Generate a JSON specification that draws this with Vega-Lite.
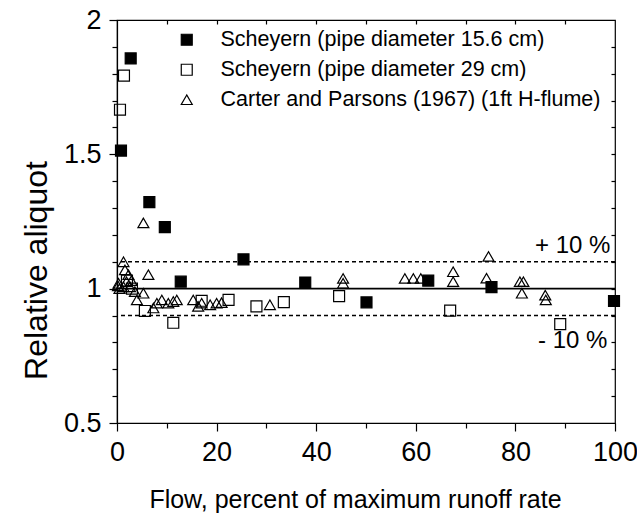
{
  "$schema": "https://vega.github.io/schema/vega-lite/v6.json",
  "width": 498,
  "height": 403,
  "autosize": {"type": "none"},
  "padding": {"left": 117, "top": 20, "right": 22, "bottom": 95},
  "background": "white",
  "config": {
    "font": "Liberation Sans",
    "view": {"stroke": "black", "strokeWidth": 1.2},
    "axis": {"grid": false, "domainColor": "black", "tickColor": "black", "labelColor": "black", "titleColor": "black", "labelFont": "Liberation Sans", "titleFont": "Liberation Sans", "titleFontWeight": "normal", "domainWidth": 1.2, "tickWidth": 1.2}
  },
  "datasets": {
    "pts": [
      {"x": 0.8, "y": 1.514, "series": "Scheyern (pipe diameter 15.6 cm)"},
      {"x": 2.75, "y": 1.857, "series": "Scheyern (pipe diameter 15.6 cm)"},
      {"x": 6.5, "y": 1.322, "series": "Scheyern (pipe diameter 15.6 cm)"},
      {"x": 9.6, "y": 1.229, "series": "Scheyern (pipe diameter 15.6 cm)"},
      {"x": 12.8, "y": 1.026, "series": "Scheyern (pipe diameter 15.6 cm)"},
      {"x": 25.4, "y": 1.109, "series": "Scheyern (pipe diameter 15.6 cm)"},
      {"x": 37.8, "y": 1.023, "series": "Scheyern (pipe diameter 15.6 cm)"},
      {"x": 50.1, "y": 0.949, "series": "Scheyern (pipe diameter 15.6 cm)"},
      {"x": 62.5, "y": 1.03, "series": "Scheyern (pipe diameter 15.6 cm)"},
      {"x": 75.2, "y": 1.006, "series": "Scheyern (pipe diameter 15.6 cm)"},
      {"x": 99.8, "y": 0.954, "series": "Scheyern (pipe diameter 15.6 cm)"},
      {"x": 0.6, "y": 1.666, "series": "Scheyern (pipe diameter 29 cm)"},
      {"x": 1.4, "y": 1.793, "series": "Scheyern (pipe diameter 29 cm)"},
      {"x": 2.0, "y": 1.03, "series": "Scheyern (pipe diameter 29 cm)"},
      {"x": 3.0, "y": 1.0, "series": "Scheyern (pipe diameter 29 cm)"},
      {"x": 5.6, "y": 0.917, "series": "Scheyern (pipe diameter 29 cm)"},
      {"x": 11.3, "y": 0.873, "series": "Scheyern (pipe diameter 29 cm)"},
      {"x": 17, "y": 0.955, "series": "Scheyern (pipe diameter 29 cm)"},
      {"x": 22.4, "y": 0.958, "series": "Scheyern (pipe diameter 29 cm)"},
      {"x": 28, "y": 0.934, "series": "Scheyern (pipe diameter 29 cm)"},
      {"x": 33.5, "y": 0.95, "series": "Scheyern (pipe diameter 29 cm)"},
      {"x": 44.6, "y": 0.972, "series": "Scheyern (pipe diameter 29 cm)"},
      {"x": 66.9, "y": 0.918, "series": "Scheyern (pipe diameter 29 cm)"},
      {"x": 89, "y": 0.868, "series": "Scheyern (pipe diameter 29 cm)"},
      {"x": 0.3, "y": 1.02, "series": "Carter and Parsons (1967) (1ft H-flume)"},
      {"x": 0.5, "y": 1.0, "series": "Carter and Parsons (1967) (1ft H-flume)"},
      {"x": 0.2, "y": 1.01, "series": "Carter and Parsons (1967) (1ft H-flume)"},
      {"x": 1.3, "y": 1.1, "series": "Carter and Parsons (1967) (1ft H-flume)"},
      {"x": 1.6, "y": 1.07, "series": "Carter and Parsons (1967) (1ft H-flume)"},
      {"x": 2.3, "y": 1.052, "series": "Carter and Parsons (1967) (1ft H-flume)"},
      {"x": 2.9, "y": 1.03, "series": "Carter and Parsons (1967) (1ft H-flume)"},
      {"x": 1.9, "y": 1.026, "series": "Carter and Parsons (1967) (1ft H-flume)"},
      {"x": 1.3, "y": 1.007, "series": "Carter and Parsons (1967) (1ft H-flume)"},
      {"x": 2.6, "y": 1.007, "series": "Carter and Parsons (1967) (1ft H-flume)"},
      {"x": 3.6, "y": 0.989, "series": "Carter and Parsons (1967) (1ft H-flume)"},
      {"x": 5.3, "y": 0.983, "series": "Carter and Parsons (1967) (1ft H-flume)"},
      {"x": 4.0, "y": 0.958, "series": "Carter and Parsons (1967) (1ft H-flume)"},
      {"x": 5.3, "y": 1.245, "series": "Carter and Parsons (1967) (1ft H-flume)"},
      {"x": 6.3, "y": 1.052, "series": "Carter and Parsons (1967) (1ft H-flume)"},
      {"x": 7.3, "y": 0.928, "series": "Carter and Parsons (1967) (1ft H-flume)"},
      {"x": 8.0, "y": 0.946, "series": "Carter and Parsons (1967) (1ft H-flume)"},
      {"x": 9.0, "y": 0.958, "series": "Carter and Parsons (1967) (1ft H-flume)"},
      {"x": 10.3, "y": 0.946, "series": "Carter and Parsons (1967) (1ft H-flume)"},
      {"x": 11.3, "y": 0.952, "series": "Carter and Parsons (1967) (1ft H-flume)"},
      {"x": 12.0, "y": 0.958, "series": "Carter and Parsons (1967) (1ft H-flume)"},
      {"x": 15.3, "y": 0.958, "series": "Carter and Parsons (1967) (1ft H-flume)"},
      {"x": 16.3, "y": 0.934, "series": "Carter and Parsons (1967) (1ft H-flume)"},
      {"x": 17.0, "y": 0.946, "series": "Carter and Parsons (1967) (1ft H-flume)"},
      {"x": 18.7, "y": 0.94, "series": "Carter and Parsons (1967) (1ft H-flume)"},
      {"x": 20.0, "y": 0.946, "series": "Carter and Parsons (1967) (1ft H-flume)"},
      {"x": 21.0, "y": 0.948, "series": "Carter and Parsons (1967) (1ft H-flume)"},
      {"x": 30.7, "y": 0.94, "series": "Carter and Parsons (1967) (1ft H-flume)"},
      {"x": 45.4, "y": 1.038, "series": "Carter and Parsons (1967) (1ft H-flume)"},
      {"x": 45.4, "y": 1.02, "series": "Carter and Parsons (1967) (1ft H-flume)"},
      {"x": 57.8, "y": 1.038, "series": "Carter and Parsons (1967) (1ft H-flume)"},
      {"x": 59.5, "y": 1.038, "series": "Carter and Parsons (1967) (1ft H-flume)"},
      {"x": 61.0, "y": 1.038, "series": "Carter and Parsons (1967) (1ft H-flume)"},
      {"x": 67.5, "y": 1.063, "series": "Carter and Parsons (1967) (1ft H-flume)"},
      {"x": 67.5, "y": 1.026, "series": "Carter and Parsons (1967) (1ft H-flume)"},
      {"x": 74.6, "y": 1.12, "series": "Carter and Parsons (1967) (1ft H-flume)"},
      {"x": 74.2, "y": 1.039, "series": "Carter and Parsons (1967) (1ft H-flume)"},
      {"x": 80.9, "y": 1.026, "series": "Carter and Parsons (1967) (1ft H-flume)"},
      {"x": 81.6, "y": 1.026, "series": "Carter and Parsons (1967) (1ft H-flume)"},
      {"x": 81.3, "y": 0.983, "series": "Carter and Parsons (1967) (1ft H-flume)"},
      {"x": 86.0, "y": 0.976, "series": "Carter and Parsons (1967) (1ft H-flume)"},
      {"x": 86.1, "y": 0.958, "series": "Carter and Parsons (1967) (1ft H-flume)"}
    ],
    "refs": [
      {"y": 1.0, "kind": "solid"},
      {"y": 1.1, "kind": "dashed"},
      {"y": 0.9, "kind": "dashed"}
    ],
    "labels": [
      {"x": 91.5, "y": 1.158, "label": "+ 10 %"},
      {"x": 91.5, "y": 0.805, "label": "- 10 %"}
    ]
  },
  "resolve": {"scale": {"x": "shared", "y": "shared"}, "axis": {"x": "independent", "y": "independent"}},
  "layer": [
    {
      "data": {"name": "refs"},
      "transform": [{"filter": "datum.kind === 'solid'"}],
      "mark": {"type": "rule", "color": "black", "strokeWidth": 1.6},
      "encoding": {
        "y": {"field": "y", "type": "quantitative", "scale": {"domain": [0.5, 2], "nice": false, "zero": false},
          "axis": {"orient": "left", "values": [0.6, 0.7, 0.8, 0.9, 1.1, 1.2, 1.3, 1.4, 1.6, 1.7, 1.8, 1.9], "labels": false, "domain": false, "tickSize": 5, "title": null}}
      }
    },
    {
      "data": {"name": "refs"},
      "transform": [{"filter": "datum.kind === 'dashed'"}],
      "mark": {"type": "rule", "color": "black", "strokeWidth": 1.6, "strokeDash": [4, 3]},
      "encoding": {
        "y": {"field": "y", "type": "quantitative",
          "axis": {"orient": "right", "values": [0.6, 0.7, 0.8, 0.9, 1.0, 1.1, 1.2, 1.3, 1.4, 1.5, 1.6, 1.7, 1.8, 1.9], "labels": false, "domain": false, "tickSize": -4, "title": null}}
      }
    },
    {
      "data": {"name": "labels"},
      "mark": {"type": "text", "fontSize": 24, "font": "Liberation Sans", "color": "black", "align": "center", "baseline": "middle"},
      "encoding": {
        "x": {"field": "x", "type": "quantitative", "scale": {"domain": [0, 100], "nice": false},
          "axis": {"orient": "bottom", "values": [10, 30, 50, 70, 90], "labels": false, "domain": false, "tickSize": 5, "title": null}},
        "y": {"field": "y", "type": "quantitative", "axis": null},
        "text": {"field": "label"}
      }
    },
    {
      "data": {"name": "labels"},
      "mark": {"type": "text", "opacity": 0},
      "encoding": {
        "x": {"field": "x", "type": "quantitative",
          "axis": {"orient": "top", "values": [10, 20, 30, 40, 50, 60, 70, 80, 90], "labels": false, "domain": false, "tickSize": -4, "title": null}},
        "text": {"field": "label"}
      }
    },
    {
      "data": {"name": "pts"},
      "mark": {"type": "point", "filled": true, "opacity": 1, "strokeWidth": 1.2, "size": 120},
      "encoding": {
        "x": {"field": "x", "type": "quantitative",
          "axis": {"orient": "bottom", "values": [0, 20, 40, 60, 80, 100], "tickSize": 8, "labelFontSize": 27, "labelPadding": 8, "title": "Flow, percent of maximum runoff rate", "titleFontSize": 25, "titlePadding": 22, "titleX": 238, "labelFlush": false}},
        "y": {"field": "y", "type": "quantitative",
          "axis": {"orient": "left", "values": [0.5, 1, 1.5, 2], "format": "~g", "tickSize": 8, "labelFontSize": 27, "labelPadding": 8, "title": "Relative aliquot", "titleFontSize": 32, "titlePadding": 10, "titleY": 250, "labelFlush": false}},
        "shape": {"field": "series", "type": "nominal",
          "scale": {"domain": ["Scheyern (pipe diameter 15.6 cm)", "Scheyern (pipe diameter 29 cm)", "Carter and Parsons (1967) (1ft H-flume)"], "range": ["square", "square", "triangle-up"]},
          "legend": {"orient": "none", "legendX": 59, "legendY": 9, "title": null, "labelFontSize": 21.5, "labelFont": "Liberation Sans", "labelColor": "black", "labelOffset": 23, "labelLimit": 0, "rowPadding": 7, "symbolSize": 120, "symbolStrokeWidth": 1.2, "symbolOpacity": 1}},
        "fill": {"field": "series", "type": "nominal",
          "scale": {"domain": ["Scheyern (pipe diameter 15.6 cm)", "Scheyern (pipe diameter 29 cm)", "Carter and Parsons (1967) (1ft H-flume)"], "range": ["black", "transparent", "transparent"]},
          "legend": {"orient": "none", "legendX": 59, "legendY": 9, "title": null, "labelFontSize": 21.5, "labelFont": "Liberation Sans", "labelColor": "black", "labelOffset": 23, "labelLimit": 0, "rowPadding": 7, "symbolSize": 120, "symbolStrokeWidth": 1.2, "symbolOpacity": 1}},
        "stroke": {"field": "series", "type": "nominal",
          "scale": {"domain": ["Scheyern (pipe diameter 15.6 cm)", "Scheyern (pipe diameter 29 cm)", "Carter and Parsons (1967) (1ft H-flume)"], "range": ["black", "black", "black"]},
          "legend": {"orient": "none", "legendX": 59, "legendY": 9, "title": null, "labelFontSize": 21.5, "labelFont": "Liberation Sans", "labelColor": "black", "labelOffset": 23, "labelLimit": 0, "rowPadding": 7, "symbolSize": 120, "symbolStrokeWidth": 1.2, "symbolOpacity": 1}}
      }
    }
  ]
}
